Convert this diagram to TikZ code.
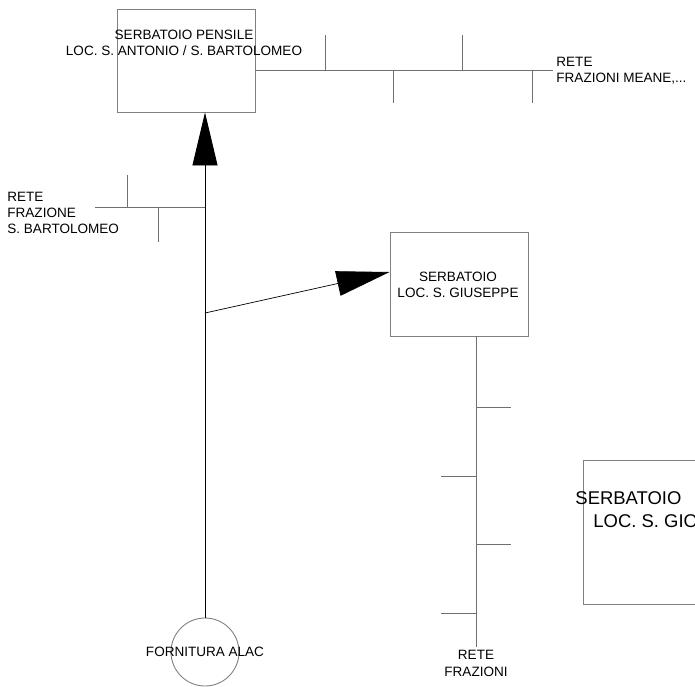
\documentclass[tikz,border=0pt]{standalone}
\usepackage{fontspec}
\setmainfont{Liberation Sans}
\usepackage{tikz}
\usetikzlibrary{arrows.meta}
\definecolor{wire}{HTML}{707070}
\definecolor{frame}{HTML}{808080}

\begin{document}
\begin{tikzpicture}[x=0.02cm,y=-0.02cm,line width=0.5pt,
  font=\fontsize{7.7}{9.3}\selectfont,
  tank/.style={draw=frame,rectangle,inner sep=0pt,minimum width=2.76cm,minimum height=2.06cm},
  txt/.style={inner sep=0pt,align=center},
  pipe/.style={black,line width=0.45pt},
  head/.style={-{Triangle[length=1.06cm,width=0.5cm]}}]
\clip (0,0) rectangle (695,686);
% serbatoi
\node[tank] (tank1) at (186,60.5) {};
\node[txt] (t1) at (184,43) {SERBATOIO PENSILE\\LOC. S. ANTONIO / S. BARTOLOMEO};
\node[tank,minimum height=2.08cm] (tank2) at (459,284) {};
\node[txt] (t2) at (458,285) {SERBATOIO\\LOC. S. GIUSEPPE};
\node[tank,anchor=west,minimum width=3.6cm,minimum height=2.88cm] (tank3) at (583,532) {};
\node[txt,anchor=west,font=\fontsize{10.5}{14}\selectfont] (t3a) at (575,498) {SERBATOIO};
\node[txt,anchor=west,font=\fontsize{10.5}{14}\selectfont] (t3b) at (593,521) {LOC. S. GIO};
% fornitura
\node[draw=frame,circle,minimum size=1.36cm,inner sep=0pt,
  label={[inner sep=0pt]center:FORNITURA ALAC}] (supply) at (205,652) {};
% adduzione
\draw[pipe,head] (supply.north) -- (supply.north |- tank1.south);
\coordinate (j1) at (205,313);
\draw[pipe,head,line width=0.4pt] (j1) -- ([yshift=0.24cm]tank2.west);
% rete meane
\coordinate (r1) at (553,70);
\draw[wire] (tank1.east |- r1) -- (r1);
\foreach \x/\y in {325/35,393/103,462/35,532/103} \draw[wire] (\x,70) -- (\x,\y);
\node[txt,anchor=west,align=left] (n1) at (556,70.5) {RETE\\FRAZIONI MEANE,...};
% rete s. bartolomeo
\coordinate (l1) at (95,207);
\draw[wire] (l1) -- (l1 -| supply.north);
\foreach \x/\y in {127/175,158/242} \draw[wire] (\x,207) -- (\x,\y);
\node[txt,anchor=west,align=left] (n2) at (7,213) {RETE\\FRAZIONE\\S. BARTOLOMEO};
% rete frazioni
\coordinate (b1) at (476,647);
\draw[wire] (b1 |- tank2.south) -- (b1);
\foreach \y/\x in {407/511,476/441,544/511,613/441} \draw[wire] (476,\y) -- (\x,\y);
\node[txt,anchor=north] (n3) at (476,650) {RETE\\FRAZIONI};
\end{tikzpicture}
\end{document}
